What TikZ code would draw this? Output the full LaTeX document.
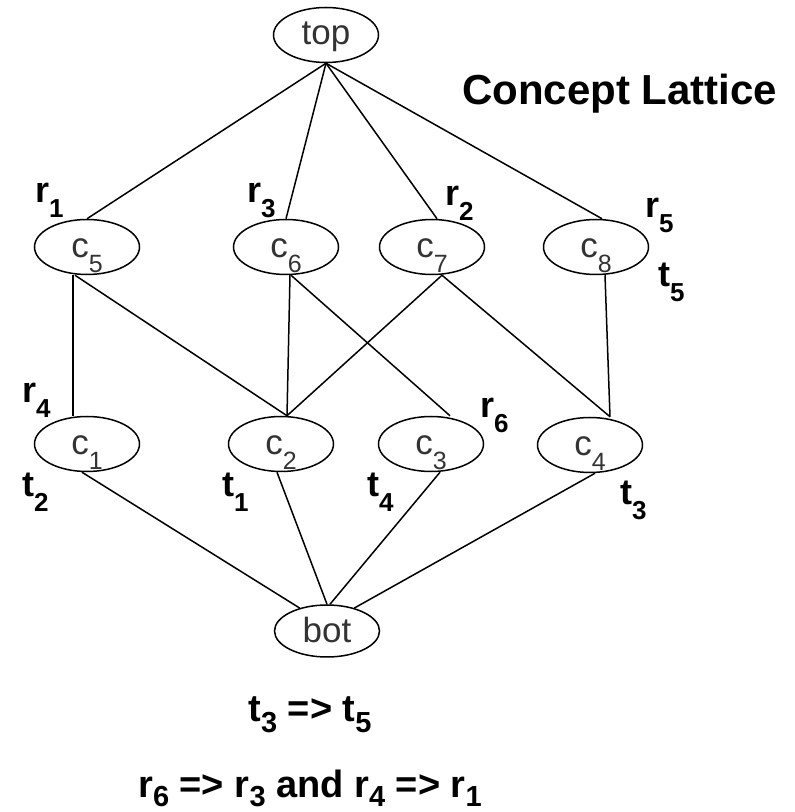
\documentclass[tikz,border=0pt]{standalone}
\usepackage{fontspec}
\setmainfont{Liberation Sans}
\usetikzlibrary{shapes.geometric}

% lowered subscript: drop, size, text
\newcommand{\lowsub}[3]{\raisebox{-#1pt}{\fontsize{#2}{#2}\selectfont #3}}

\begin{document}
\begin{tikzpicture}[x=1pt, y=1pt,
  concept/.style={ellipse, draw, line width=1.5pt, minimum width=105pt, minimum height=55pt,
    inner sep=0pt, text=black!80, font=\fontsize{35}{40}\selectfont, text height=22pt, text depth=0pt},
  lbl/.style={anchor=base west, inner sep=0pt, font=\fontsize{36}{40}\selectfont\bfseries},
  implic/.style={anchor=base, inner sep=0pt, font=\fontsize{38}{42}\selectfont\bfseries},
  edge/.style={line width=1.5pt}]
  \useasboundingbox (0,0) rectangle (795,812);

  % Concepts
  \node[concept, text height=20pt] (top) at (326,777) {top};
  \node[concept] (c5) at (87,565)  {c\lowsub{15}{25}{5}};
  \node[concept] (c6) at (286,565) {c\lowsub{15}{25}{6}};
  \node[concept] (c7) at (432,565) {c\lowsub{15}{25}{7}};
  \node[concept] (c8) at (596,565) {c\lowsub{15}{25}{8}};
  \node[concept] (c1) at (87,368)  {c\lowsub{15}{25}{1}};
  \node[concept] (c2) at (281,368) {c\lowsub{15}{25}{2}};
  \node[concept] (c3) at (431,368) {c\lowsub{15}{25}{3}};
  \node[concept] (c4) at (590,367) {c\lowsub{15}{25}{4}};
  \node[concept, minimum height=52pt, text height=24pt] (bot) at (327,181) {bot};

  % Top -> upper row
  \draw[edge] (top.south) -- (c5.north);
  \draw[edge] (top.south) -- (c6.north);
  \draw[edge] (top.south) -- ([xshift=5pt]c7.north);
  \draw[edge] (top.south) -- ([xshift=6pt]c8.north);

  % Upper row -> lower row
  \draw[edge] ([xshift=-14pt]c5.south) -- ([xshift=-14pt]c1.north);
  \draw[edge] ([xshift=-12pt]c5.south) -- ([xshift=6pt]c2.north);
  \draw[edge] ([xshift=4pt]c6.south) -- ([xshift=6pt]c2.north);
  \draw[edge] ([xshift=5pt]c6.south) -- ([xshift=19pt]c3.north);
  \draw[edge] ([xshift=10pt]c7.south) -- ([xshift=6pt]c2.north);
  \draw[edge] ([xshift=10pt]c7.south) -- ([xshift=20pt]c4.north);
  \draw[edge] ([xshift=9pt]c8.south) -- ([xshift=20pt]c4.north);

  % Lower row -> bot
  \draw[edge] ([xshift=-5pt]c1.south) -- (bot.140);
  \draw[edge] ([xshift=-4pt]c2.south) -- (bot.north);
  \draw[edge] ([xshift=9pt]c3.south) -- ([xshift=3pt]bot.north);
  \draw[edge] ([xshift=5pt]c4.south) -- (bot.40);

  % Attribute and object labels
  \node[lbl] (r1) at (35,609)  {r\lowsub{15}{26}{1}};
  \node[lbl] (r3) at (247,609) {r\lowsub{15}{26}{3}};
  \node[lbl] (r2) at (445,606) {r\lowsub{15}{26}{2}};
  \node[lbl] (r5) at (645,594) {r\lowsub{15}{26}{5}};
  \node[lbl] (t5) at (658,525) {t\lowsub{15}{26}{5}};
  \node[lbl] (r4) at (22,409)  {r\lowsub{15}{26}{4}};
  \node[lbl] (r6) at (480,394) {r\lowsub{15}{26}{6}};
  \node[lbl] (t2) at (22,315)  {t\lowsub{15}{26}{2}};
  \node[lbl] (t1) at (222,315) {t\lowsub{15}{26}{1}};
  \node[lbl] (t4) at (367,315) {t\lowsub{15}{26}{4}};
  \node[lbl] (t3) at (620,307) {t\lowsub{15}{26}{3}};

  \node[anchor=base west, inner sep=0pt, font=\fontsize{42}{48}\selectfont\bfseries] (title) at (462,707) {Concept Lattice};

  % Implications
  \node[implic] (imp1) at (310,90) {t\lowsub{11}{29}{3} => t\lowsub{11}{29}{5}};
  \node[implic] (imp2) at (310,15) {r\lowsub{9}{29}{6} => r\lowsub{9}{29}{3} and r\lowsub{9}{29}{4} => r\lowsub{9}{29}{1}};
\end{tikzpicture}
\end{document}
